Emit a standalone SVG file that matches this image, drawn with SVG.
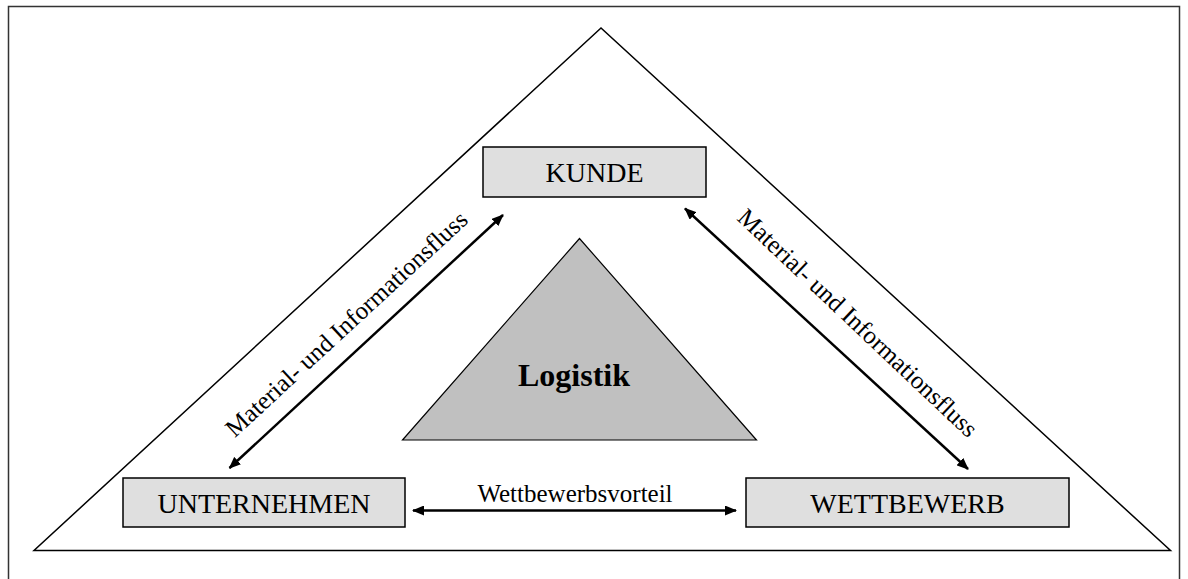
<svg xmlns="http://www.w3.org/2000/svg" width="1188" height="579" viewBox="0 0 1188 579">
<style>
.box{fill:#dfdfdf;stroke:#000;stroke-width:1.5}
.lbl{font-family:"Liberation Serif","Times New Roman",serif;font-size:28px;fill:#000;text-anchor:middle}
.small{font-family:"Liberation Serif","Times New Roman",serif;font-size:25px;fill:#000;text-anchor:middle}
.conn{stroke:#000;stroke-width:2.5;fill:none;marker-start:url(#ah);marker-end:url(#ah)}
</style>
<defs>
<marker id="ah" viewBox="0 0 12 10" refX="11" refY="5" markerWidth="12" markerHeight="10" markerUnits="userSpaceOnUse" orient="auto-start-reverse">
<path d="M0,0 L12,5 L0,10 Z" fill="#000"/>
</marker>
</defs>
<rect x="8.5" y="6.5" width="1171" height="620" fill="#fff" stroke="#333" stroke-width="1.5"/>
<g id="outer-triangle">
<polygon points="601,28 34,550.5 1170.5,550.5" fill="none" stroke="#000" stroke-width="1.5"/>
</g>
<g id="logistik">
<polygon points="579.5,238.5 402.5,440 756.5,440" fill="#c0c0c0" stroke="#000" stroke-width="1.2"/>
<text x="574" y="386" font-family="Liberation Serif,Times New Roman,serif" font-size="32" font-weight="bold" text-anchor="middle">Logistik</text>
</g>
<g id="kunde">
<rect class="box" x="483" y="147" width="223" height="50"/>
<text class="lbl" x="594.5" y="182">KUNDE</text>
</g>
<g id="unternehmen">
<rect class="box" x="123" y="478" width="282" height="49"/>
<text class="lbl" x="264" y="513">UNTERNEHMEN</text>
</g>
<g id="wettbewerb">
<rect class="box" x="746" y="478" width="323" height="49"/>
<text class="lbl" x="907.5" y="513">WETTBEWERB</text>
</g>
<g id="connectors">
<line class="conn" x1="229.5" y1="468" x2="503" y2="215"/>
<line class="conn" x1="685" y1="208.5" x2="968" y2="469"/>
<line class="conn" x1="413" y1="510.5" x2="736" y2="510.5"/>
</g>
<g id="labels">
<text class="small" x="575" y="502">Wettbewerbsvorteil</text>
<text class="small" transform="translate(352,330) rotate(-42.7)">Material- und Informationsfluss</text>
<text class="small" transform="translate(852,329) rotate(43.4)">Material- und Informationsfluss</text>
</g>
</svg>
